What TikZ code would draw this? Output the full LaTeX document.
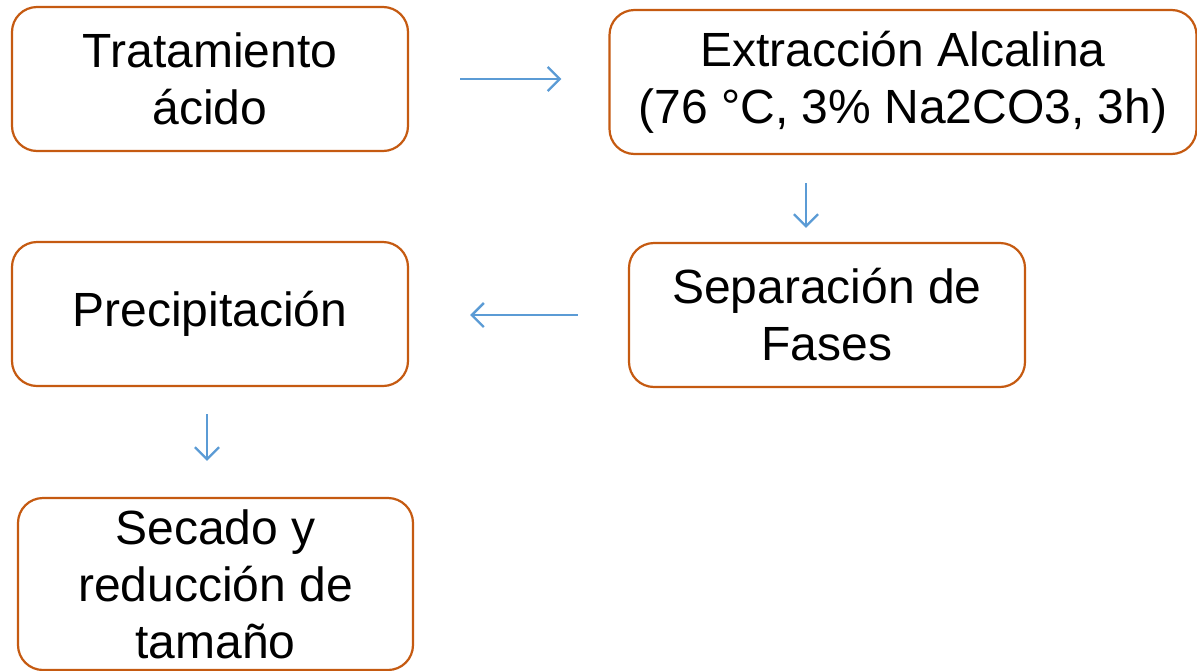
\documentclass[tikz,border=0pt]{standalone}
\usepackage{fontspec}
\setmainfont{Liberation Sans}
\usetikzlibrary{arrows.meta}
\definecolor{borde}{HTML}{C55A11}
\definecolor{flechaazul}{HTML}{5B9BD5}
\begin{document}
\begin{tikzpicture}[x=1pt,y=-1pt,
  caja/.style={draw=borde,line width=2.2pt,rounded corners=25pt,fill=white,
    align=center,inner sep=0pt,font=\fontsize{48}{57}\selectfont},
  flecha/.style={draw=flechaazul,line width=2.4pt,
    -{Straight Barb[length=12pt,width=24pt,line width=2.4pt]}}]
\useasboundingbox (0,0) rectangle (1197,670);
% Pasos del proceso
\node[caja,minimum width=396pt,minimum height=144pt] (trat) at (210,79) {Tratamiento\\ácido};
\node[caja,minimum width=587pt,minimum height=144pt] (ext) at (903,82) {Extracción Alcalina\\(76 °C, 3\% Na2CO3, 3h)};
\node[caja,minimum width=396pt,minimum height=144pt] (sep) at (827,315) {Separación de\\Fases};
\node[caja,minimum width=396pt,minimum height=144pt] (prec) at (210,314) {Precipitación};
\node[caja,minimum width=395pt,minimum height=172pt] (sec) at (215.5,584) {Secado y\\reducción de\\tamaño};
% Flechas
\draw[flecha,shorten <=51pt,shorten >=47pt] (trat.east) -- (trat.east -| ext.west);
\draw[flecha] ([xshift=-97pt,yshift=-28pt]ext.south) -- ([xshift=-21pt,yshift=14pt]sep.north);
\draw[flecha,shorten <=50pt,shorten >=61pt] (sep.west) -- (sep.west -| prec.east);
\draw[flecha] ([xshift=-3pt,yshift=-27pt]prec.south) -- ([xshift=-8.5pt,yshift=36pt]sec.north);
\end{tikzpicture}
\end{document}
